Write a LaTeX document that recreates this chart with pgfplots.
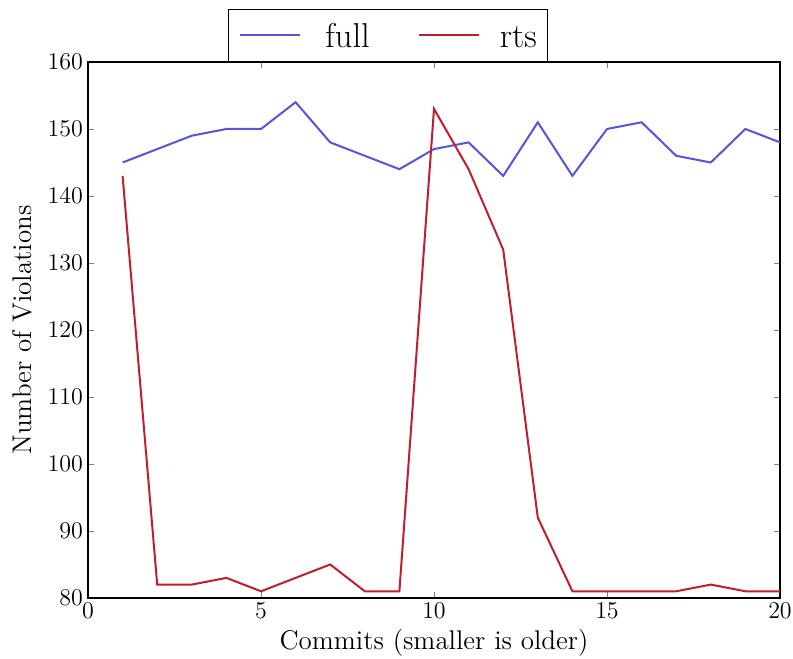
\documentclass[border=0pt]{standalone}
\usepackage{pgfplots}
\pgfplotsset{compat=1.18}
\definecolor{fullc}{RGB}{85,85,220}
\definecolor{rtsc}{RGB}{190,30,45}
\begin{document}
\begin{tikzpicture}
\begin{axis}[
  scale only axis,
  width=346pt, height=268pt,
  xmin=0, xmax=20, ymin=80, ymax=160,
  xtick={0,5,10,15,20},
  ytick={80,90,...,160},
  tick align=inside,
  tick pos=both,
  major tick length=3pt,
  ticklabel style={font=\large},
  xticklabel style={yshift=1pt},
  yticklabel style={xshift=1pt},
  axis line style={line width=0.7pt},
  xlabel={\fontsize{13.5}{15}\selectfont Commits (smaller is older)},
  ylabel={\fontsize{13.5}{15}\selectfont Number of Violations},
  xlabel style={at={(axis description cs:0.5,-0.084)}, anchor=center},
  ylabel style={at={(axis description cs:-0.0954,0.5)}, anchor=center},
  legend columns=2,
  legend style={at={(axis description cs:0.4335,1)}, anchor=south, draw=black, line width=0.7pt,
    font=\LARGE, inner xsep=5.5pt, inner ysep=7pt,
    nodes={inner sep=0pt, text height=12pt, text depth=0pt},
    /tikz/every even column/.append style={column sep=24pt}},
  legend image code/.code={\draw[#1] (0pt,0pt) -- (30pt,0pt);},
  legend cell align=left,
]
\addplot[color=fullc, line width=1pt] coordinates {
(1,145)(2,147)(3,149)(4,150)(5,150)(6,154)(7,148)(8,146)(9,144)(10,147)
(11,148)(12,143)(13,151)(14,143)(15,150)(16,151)(17,146)(18,145)(19,150)(20,148)};
\addlegendentry{\hspace{12pt}full}
\addplot[color=rtsc, line width=1pt] coordinates {
(1,143)(2,82)(3,82)(4,83)(5,81)(6,83)(7,85)(8,81)(9,81)(10,153)
(11,144)(12,132)(13,92)(14,81)(15,81)(16,81)(17,81)(18,82)(19,81)(20,81)};
\addlegendentry{\hspace{10pt}rts}
\end{axis}
\pgfresetboundingbox
\path ([shift={(-44pt,-30.5pt)}]current axis.south west) rectangle ([shift={(6.5pt,31pt)}]current axis.north east);
\end{tikzpicture}
\end{document}
